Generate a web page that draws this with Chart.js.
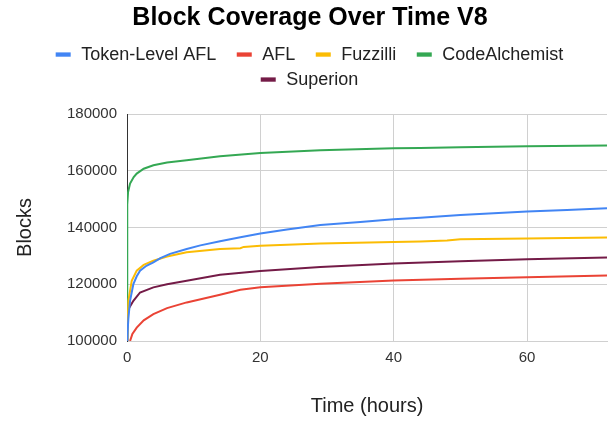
<!DOCTYPE html>
<html>
<head>
<meta charset="utf-8">
<script src="https://cdn.jsdelivr.net/npm/chart.js@4"></script>
<style>
  html, body { margin: 0; padding: 0; background: #fff; }
  #wrap { width: 613px; height: 421px; position: relative; }
</style>
</head>
<body>
<div id="wrap"><canvas id="c" width="613" height="421"></canvas></div>
<script>
// ---- data ----
const seriesNames = ["Token-Level AFL", "AFL", "Fuzzilli", "CodeAlchemist", "Superion"];
const seriesColors = ["#4285F4", "#EA4335", "#FBBC04", "#34A853", "#741B47"];

const tokenHours  = [0, 0.2, 0.45, 0.95, 1.45, 1.95, 2.9, 3.95, 5, 6.45, 8.95, 11, 13.95, 17, 20, 24, 29, 35, 40, 44, 50, 55, 60, 66, 72];
const tokenBlocks = [100000, 108000, 114150, 120050, 122800, 124800, 126500, 127700, 129200, 130700, 132450, 133700, 135180, 136600, 137900, 139300, 140850, 141900, 142870, 143400, 144400, 145000, 145630, 146200, 146800];

const aflHours  = [0.45, 0.8, 1.45, 2.5, 3.95, 6, 8.95, 13.95, 17, 20, 29, 40, 50, 60, 72];
const aflBlocks = [100000, 102500, 104700, 107300, 109450, 111600, 113600, 116300, 118050, 118970, 120150, 121330, 121900, 122500, 123080];

const fuzzHours  = [0, 0.2, 0.7, 1.45, 2.5, 3.95, 6, 8.95, 13.95, 17, 17.5, 20, 29, 40, 44, 48, 50, 60, 72];
const fuzzBlocks = [100000, 114150, 121200, 124800, 126800, 128300, 129800, 131300, 132450, 132700, 133160, 133600, 134350, 134850, 135100, 135400, 135870, 136100, 136450];

const caHours  = [0, 0.03, 0.15, 0.45, 1, 1.45, 2.5, 3.95, 6, 8.95, 13.95, 20, 29, 40, 44, 50, 60, 72];
const caBlocks = [100000, 148000, 152500, 155500, 157800, 159000, 160700, 161950, 162900, 163700, 165100, 166270, 167200, 167900, 168000, 168300, 168600, 168860];

const supHours  = [0, 0.05, 0.95, 1.95, 3.95, 6, 8.95, 13.95, 20, 29, 40, 50, 60, 72];
const supBlocks = [100000, 110600, 114150, 117100, 118900, 120000, 121200, 123370, 124700, 126070, 127300, 128100, 128790, 129390];

const yTicks = [100000, 120000, 140000, 160000, 180000];
const xTicks = [0, 20, 40, 60];

const chartTitle = "Block Coverage Over Time V8";
const xTitle = "Time (hours)";
const yTitle = "Blocks";

// ---- build ----
const FONT = "'Liberation Sans', Arial, sans-serif";
function pts(h, b) { return h.map((x, i) => ({ x: x, y: b[i] })); }
const allSeries = [
  pts(tokenHours, tokenBlocks),
  pts(aflHours, aflBlocks),
  pts(fuzzHours, fuzzBlocks),
  pts(caHours, caBlocks),
  pts(supHours, supBlocks)
];

const datasets = allSeries.map((d, i) => ({
  label: seriesNames[i],
  data: d,
  borderColor: seriesColors[i],
  backgroundColor: seriesColors[i],
  borderWidth: 2,
  pointRadius: 0,
  tension: 0,
  fill: false
}));

// custom legend drawn in two rows like the reference
const legendPlugin = {
  id: 'twoRowLegend',
  afterDraw(chart) {
    const ctx = chart.ctx;
    ctx.save();
    ctx.font = "18px " + FONT;
    ctx.textBaseline = 'alphabetic';
    ctx.textAlign = 'left';
    const rows = [[0, 1, 2, 3], [4]];
    const baselines = [60, 85];
    const boxW = 15, boxH = 4.3, gapText = 10.5, gapItem = 20.5;
    const cx = chart.width / 2 + 3;
    rows.forEach((row, r) => {
      const widths = row.map(i => boxW + gapText + ctx.measureText(chart.data.datasets[i].label).width);
      const total = widths.reduce((a, b) => a + b, 0) + gapItem * (row.length - 1);
      let x = cx - total / 2;
      row.forEach((i, k) => {
        const ds = chart.data.datasets[i];
        ctx.fillStyle = ds.borderColor;
        ctx.fillRect(x, baselines[r] - 7.6, boxW, boxH);
        ctx.fillStyle = '#222';
        ctx.fillText(ds.label, x + boxW + gapText, baselines[r]);
        x += widths[k] + gapItem;
      });
    });
    ctx.restore();
  }
};

new Chart(document.getElementById('c'), {
  type: 'line',
  data: { datasets: datasets },
  plugins: [legendPlugin],
  options: {
    responsive: false,
    animation: false,
    layout: { padding: { left: 13, right: 6, top: 0, bottom: 0 } },
    plugins: {
      legend: { display: false },
      tooltip: { enabled: false },
      title: {
        display: true,
        text: chartTitle,
        color: '#000',
        font: { family: FONT, size: 25, weight: 'bold' },
        padding: { top: 3, bottom: 81 }
      }
    },
    scales: {
      x: {
        type: 'linear',
        min: 0,
        max: 72,
        afterBuildTicks(axis) { axis.ticks = xTicks.map(v => ({ value: v })); },
        ticks: {
          color: '#333',
          font: { family: FONT, size: 15 },
          padding: 8,
          maxRotation: 0
        },
        grid: { color: '#d0d0d0', drawTicks: false, lineWidth: 1 },
        border: { display: true, color: '#d0d0d0' },
        title: {
          display: true,
          text: xTitle,
          color: '#222',
          font: { family: FONT, size: 20 },
          padding: { top: 19, bottom: 3 }
        }
      },
      y: {
        type: 'linear',
        min: 100000,
        max: 180000,
        afterBuildTicks(axis) { axis.ticks = yTicks.map(v => ({ value: v })); },
        ticks: {
          color: '#333',
          font: { family: FONT, size: 15 },
          padding: 10,
          callback: v => String(v)
        },
        grid: { color: '#d0d0d0', drawTicks: false, lineWidth: 1 },
        border: { display: true, color: '#333', width: 1 },
        title: {
          display: true,
          text: yTitle,
          color: '#222',
          font: { family: FONT, size: 20 },
          padding: { top: 0, bottom: 20 }
        }
      }
    }
  }
});
</script>
</body>
</html>
